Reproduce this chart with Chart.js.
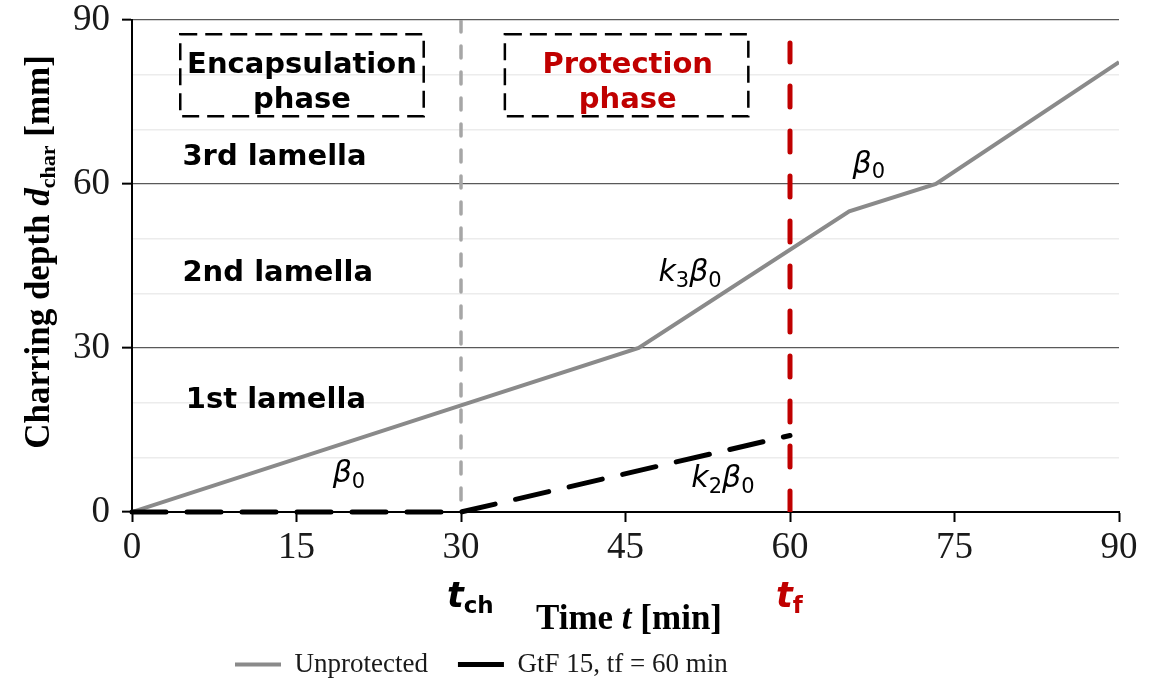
<!DOCTYPE html>
<html>
<head>
<meta charset="utf-8">
<script src="https://cdn.jsdelivr.net/npm/chart.js@4.4.1/dist/chart.umd.min.js"></script>
<style>
  html, body { margin: 0; padding: 0; background: #fff; }
  #wrap { width: 1163px; height: 693px; position: relative; }
</style>
</head>
<body>
<div id="wrap"><canvas id="chart_charringDepth"></canvas></div>
<script>
// time [min] and charring depth [mm]
var unprotTime  = [0, 30, 46.2, 65.4, 73.3, 90];
var unprotDepth = [0, 19.5, 30, 55, 60, 82.3];
var gtfTime  = [0, 30, 60];
var gtfDepth = [0, 0, 14];
// failure / start-of-charring markers
var tChar = 30, tFail = 60;
var tCharLine = [90, 0];
var tFailLine = [0, 85.8];
var xTicks = [0, 15, 30, 45, 60, 75, 90];
var yTicks = [0, 30, 60, 90];
var seriesNames = ['Unprotected', 'GtF 15, tf = 60 min'];

function toPoints(xs, ys) {
  return xs.map(function (x, i) { return { x: x, y: ys[i] }; });
}

var SERIF = "'Liberation Serif', 'Times New Roman', serif";
var SANS = "'DejaVu Sans', Verdana, sans-serif";
var RED = '#c00000';

function drawRich(ctx, parts, x, y, align) {
  var w = 0;
  parts.forEach(function (p) { ctx.font = p[1]; w += ctx.measureText(p[0]).width; });
  var cx = align === 'center' ? x - w / 2 : x;
  ctx.textAlign = 'left';
  ctx.textBaseline = 'alphabetic';
  parts.forEach(function (p) {
    ctx.font = p[1];
    ctx.fillText(p[0], cx, y + (p[2] || 0));
    cx += ctx.measureText(p[0]).width;
  });
}

var annotations = {
  id: 'annotations',
  afterLayout: function (chart) {
    // legend sits left of centre in the original
    chart.legend.left += 205;
  },
  afterDraw: function (chart) {
    var ctx = chart.ctx;
    var xs = chart.scales.x, ys = chart.scales.y;
    var px = function (v) { return xs.getPixelForValue(v); };
    var py = function (v) { return ys.getPixelForValue(v); };
    ctx.save();

    // phase boxes
    ctx.strokeStyle = '#000';
    ctx.lineWidth = 2.5;
    ctx.setLineDash([17, 8]);
    [[4.4, 26.6], [34.0, 56.2]].forEach(function (b) {
      ctx.strokeRect(px(b[0]), py(87.4), px(b[1]) - px(b[0]), py(72.4) - py(87.4));
    });
    ctx.setLineDash([]);

    var boxFont = 'bold 29px ' + SANS;
    ctx.fillStyle = '#000';
    drawRich(ctx, [['Encapsulation', boxFont]], px(15.5), 73, 'center');
    drawRich(ctx, [['phase', boxFont]], px(15.5), 108, 'center');
    ctx.fillStyle = RED;
    drawRich(ctx, [['Protection', boxFont]], px(45.2), 73, 'center');
    drawRich(ctx, [['phase', boxFont]], px(45.2), 108, 'center');

    // lamella labels
    var lamFont = 'bold 29px ' + SANS;
    ctx.fillStyle = '#000';
    drawRich(ctx, [['3rd lamella', lamFont]], px(4.6), 165, 'left');
    drawRich(ctx, [['2nd lamella', lamFont]], px(4.6), 281, 'left');
    drawRich(ctx, [['1st lamella', lamFont]], px(4.9), 408, 'left');

    // rate labels
    var it = 'italic 30px ' + SANS, sub = '21px ' + SANS;
    ctx.fillStyle = '#000';
    drawRich(ctx, [['\u03b2', it], ['0', sub, 6]], px(18.3), 482, 'left');
    drawRich(ctx, [['k', it], ['3', sub, 6], ['\u03b2', it], ['0', sub, 6]], px(48.0), 281, 'left');
    drawRich(ctx, [['\u03b2', it], ['0', sub, 5]], px(65.7), 173, 'left');
    drawRich(ctx, [['k', it], ['2', sub, 6], ['\u03b2', it], ['0', sub, 6]], px(51.0), 487, 'left');

    // t_ch and t_f under the x axis
    var tFont = 'bold italic 35px ' + SANS, tSub = 'bold 23px ' + SANS;
    ctx.fillStyle = '#000';
    drawRich(ctx, [['t', tFont], ['ch', tSub, 6]], px(tChar) - 14, 607, 'left');
    ctx.fillStyle = RED;
    drawRich(ctx, [['t', tFont], ['f', tSub, 6]], px(tFail) - 14, 607, 'left');

    // axis titles
    ctx.fillStyle = '#000';
    drawRich(ctx, [['Time ', 'bold 35px ' + SERIF], ['t', 'bold italic 35px ' + SERIF], [' [min]', 'bold 35px ' + SERIF]], 629, 629, 'center');
    ctx.translate(49, 252);
    ctx.rotate(-Math.PI / 2);
    drawRich(ctx, [
      ['Charring depth ', 'bold 35px ' + SERIF],
      ['d', 'bold italic 35px ' + SERIF],
      ['char', 'bold 22px ' + SERIF, 6],
      [' [mm]', 'bold 35px ' + SERIF]
    ], 0, 0, 'center');
    ctx.restore();
  }
};

var chart_charringDepth = new Chart(document.getElementById('chart_charringDepth'), {
  type: 'line',
  data: {
    datasets: [
      {
        label: seriesNames[0],
        data: toPoints(unprotTime, unprotDepth),
        borderColor: '#8a8a8a',
        backgroundColor: '#8a8a8a',
        borderWidth: 4,
        pointRadius: 0,
        order: 3
      },
      {
        label: seriesNames[1],
        data: toPoints(gtfTime, gtfDepth),
        borderColor: '#000',
        backgroundColor: '#000',
        borderWidth: 5,
        borderDash: [34, 21],
        borderCapStyle: 'round',
        pointRadius: 0,
        clip: 10,
        order: 2
      },
      {
        label: 'tch',
        data: toPoints([tChar, tChar], tCharLine),
        borderColor: '#a6a6a6',
        borderWidth: 3.5,
        borderDash: [12, 14],
        borderCapStyle: 'round',
        pointRadius: 0,
        order: 1
      },
      {
        label: 'tf',
        data: toPoints([tFail, tFail], tFailLine),
        borderColor: RED,
        borderWidth: 5,
        borderDash: [21, 24],
        borderCapStyle: 'round',
        pointRadius: 0,
        order: 0
      }
    ]
  },
  options: {
    animation: false,
    responsive: true,
    maintainAspectRatio: false,
    layout: { padding: { top: 20, right: 44, left: 0, bottom: 5 } },
    plugins: {
      title: { display: false },
      tooltip: { enabled: false },
      legend: {
        display: true,
        position: 'bottom',
        align: 'start',
        labels: {
          filter: function (item) { return item.datasetIndex < 2; },
          sort: function (a, b) { return a.datasetIndex - b.datasetIndex; },
          usePointStyle: true,
          pointStyle: 'line',
          pointStyleWidth: 46,
          padding: 30,
          color: '#1a1a1a',
          font: { family: SERIF, size: 27 }
        }
      }
    },
    scales: {
      x: {
        type: 'linear',
        min: 0,
        max: 90,
        afterBuildTicks: function (scale) {
          scale.ticks = xTicks.map(function (v) { return { value: v }; });
        },
        afterFit: function (scale) { scale.height = 109; },
        ticks: {
          color: '#1a1a1a',
          padding: 4,
          maxRotation: 0,
          font: { family: SERIF, size: 37 }
        },
        grid: {
          drawOnChartArea: false,
          drawTicks: true,
          tickLength: 10,
          tickColor: '#000',
          tickWidth: 2
        },
        border: { display: true, color: '#000', width: 2 }
      },
      y: {
        type: 'linear',
        min: 0,
        max: 90,
        afterBuildTicks: function (scale) {
          var t = [];
          for (var v = 0; v <= 90; v += 5) t.push({ value: v });
          scale.ticks = t;
        },
        afterFit: function (scale) {
          scale.width = 132;
          scale.paddingTop = 0;
          scale.paddingBottom = 0;
        },
        ticks: {
          color: '#1a1a1a',
          padding: 12,
          font: { family: SERIF, size: 37 },
          callback: function (v) { return yTicks.indexOf(v) >= 0 ? String(v) : ''; }
        },
        grid: {
          color: function (c) { return yTicks.indexOf(c.tick.value) >= 0 ? '#595959' : '#ececec'; },
          lineWidth: function (c) { return yTicks.indexOf(c.tick.value) >= 0 ? 1.3 : 1.5; },
          tickColor: function (c) { return yTicks.indexOf(c.tick.value) >= 0 ? '#000' : 'rgba(0,0,0,0)'; },
          tickLength: 10,
          tickWidth: 2
        },
        border: { display: true, color: '#000', width: 2 }
      }
    }
  },
  plugins: [annotations, {
    id: 'customPlugin',
    beforeDraw: function (chart) {
      var ctx = chart.canvas.getContext('2d');
      ctx.save();
      ctx.globalCompositeOperation = 'destination-over';
      ctx.fillStyle = 'white';
      ctx.fillRect(0, 0, chart.canvas.width, chart.canvas.height);
      ctx.restore();
    }
  }]
});
</script>
</body>
</html>
